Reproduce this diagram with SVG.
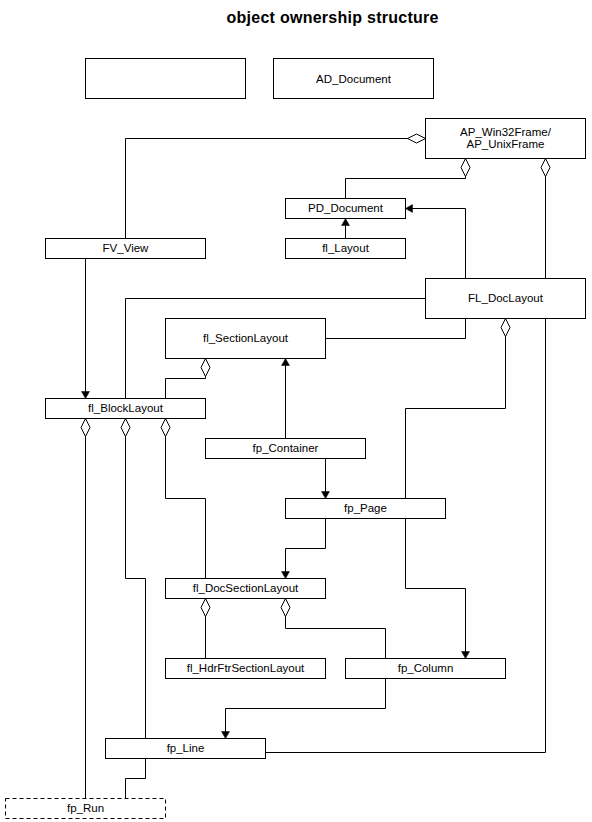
<svg xmlns="http://www.w3.org/2000/svg" width="592" height="822" viewBox="0 0 592 822">
<style>
  .box { fill: #ffffff; stroke: #000000; stroke-width: 1; }
  .dash { stroke-dasharray: 4 3; }
  .lbl { font-family: "Liberation Sans", Arial, sans-serif; font-size: 11.5px; fill: #000000; text-anchor: middle; }
  .title { font-family: "Liberation Sans", Arial, sans-serif; font-size: 16px; font-weight: bold; fill: #000000; text-anchor: middle; }
  .conn { fill: none; stroke: #000000; stroke-width: 1; }
  .own { marker-start: url(#diamond); }
  .arr { marker-end: url(#arrow); }
</style>
<defs>
  <marker id="diamond" markerUnits="userSpaceOnUse" markerWidth="20" markerHeight="10" refX="0" refY="0" orient="auto" overflow="visible">
    <path d="M0,0 L9,-4.5 L18,0 L9,4.5 Z" fill="#ffffff" stroke="#000000" stroke-width="1"/>
  </marker>
  <marker id="arrow" markerUnits="userSpaceOnUse" markerWidth="8" markerHeight="8" refX="0" refY="0" orient="auto" overflow="visible">
    <path d="M-7,-4 L0,0 L-7,4 Z" fill="#000000" stroke="#000000" stroke-width="0.5"/>
  </marker>
</defs>
<rect width="592" height="822" fill="#ffffff"/>
<text class="title" x="332.5" y="23" textLength="212" lengthAdjust="spacing">object ownership structure</text>
<g transform="translate(0.5,0.5)">
  <g id="connectors">
    <path class="conn own" d="M425,138 H125 V238"/>
    <path class="conn own" d="M465,158 V178 H345 V198"/>
    <path class="conn own" d="M545,158 V278"/>
    <path class="conn arr" d="M465,278 V208 H405"/>
    <path class="conn arr" d="M345,238 V218"/>
    <path class="conn arr" d="M85,258 V398"/>
    <path class="conn" d="M425,298 H125 V398"/>
    <path class="conn" d="M465,318 V338 H325"/>
    <path class="conn own" d="M205,358 V378 H165 V398"/>
    <path class="conn own" d="M505,318 V408 H405 V498"/>
    <path class="conn" d="M545,318 V752 H265"/>
    <path class="conn arr" d="M285,438 V358"/>
    <path class="conn arr" d="M325,458 V498"/>
    <path class="conn own" d="M85,418 V798"/>
    <path class="conn own" d="M125,418 V578 H145 V738"/>
    <path class="conn own" d="M165,418 V498 H205 V578"/>
    <path class="conn arr" d="M325,518 V548 H285 V578"/>
    <path class="conn arr" d="M405,518 V588 H465 V658"/>
    <path class="conn own" d="M205,598 V658"/>
    <path class="conn own" d="M285,598 V628 H385 V658"/>
    <path class="conn arr" d="M385,678 V708 H225 V738"/>
    <path class="conn" d="M145,758 V778 H125 V798"/>
  </g>
  <g id="empty_box"><rect class="box" x="85" y="58" width="160" height="40"/></g>
  <g id="AD_Document"><rect class="box" x="273" y="58" width="160" height="40"/><text class="lbl" x="353" y="82">AD_Document</text></g>
  <g id="AP_Frame"><rect class="box" x="425" y="118" width="160" height="40"/><text class="lbl" x="505" y="135">AP_Win32Frame/</text><text class="lbl" x="505" y="147">AP_UnixFrame</text></g>
  <g id="PD_Document"><rect class="box" x="285" y="198" width="120" height="20"/><text class="lbl" x="345" y="211">PD_Document</text></g>
  <g id="fl_Layout"><rect class="box" x="285" y="238" width="120" height="20"/><text class="lbl" x="345" y="251">fl_Layout</text></g>
  <g id="FV_View"><rect class="box" x="45" y="238" width="160" height="20"/><text class="lbl" x="125" y="251">FV_View</text></g>
  <g id="FL_DocLayout"><rect class="box" x="425" y="278" width="160" height="40"/><text class="lbl" x="505" y="301">FL_DocLayout</text></g>
  <g id="fl_SectionLayout"><rect class="box" x="165" y="318" width="160" height="40"/><text class="lbl" x="245" y="341">fl_SectionLayout</text></g>
  <g id="fl_BlockLayout"><rect class="box" x="45" y="398" width="160" height="20"/><text class="lbl" x="125" y="411">fl_BlockLayout</text></g>
  <g id="fp_Container"><rect class="box" x="205" y="438" width="160" height="20"/><text class="lbl" x="285" y="451">fp_Container</text></g>
  <g id="fp_Page"><rect class="box" x="285" y="498" width="160" height="20"/><text class="lbl" x="365" y="511">fp_Page</text></g>
  <g id="fl_DocSectionLayout"><rect class="box" x="165" y="578" width="160" height="20"/><text class="lbl" x="245" y="591">fl_DocSectionLayout</text></g>
  <g id="fl_HdrFtrSectionLayout"><rect class="box" x="165" y="658" width="160" height="20"/><text class="lbl" x="245" y="671">fl_HdrFtrSectionLayout</text></g>
  <g id="fp_Column"><rect class="box" x="345" y="658" width="160" height="20"/><text class="lbl" x="425" y="671">fp_Column</text></g>
  <g id="fp_Line"><rect class="box" x="105" y="738" width="160" height="20"/><text class="lbl" x="185" y="751">fp_Line</text></g>
  <g id="fp_Run"><rect class="box dash" x="5" y="798" width="160" height="20"/><text class="lbl" x="85" y="811">fp_Run</text></g>
</g>
</svg>
